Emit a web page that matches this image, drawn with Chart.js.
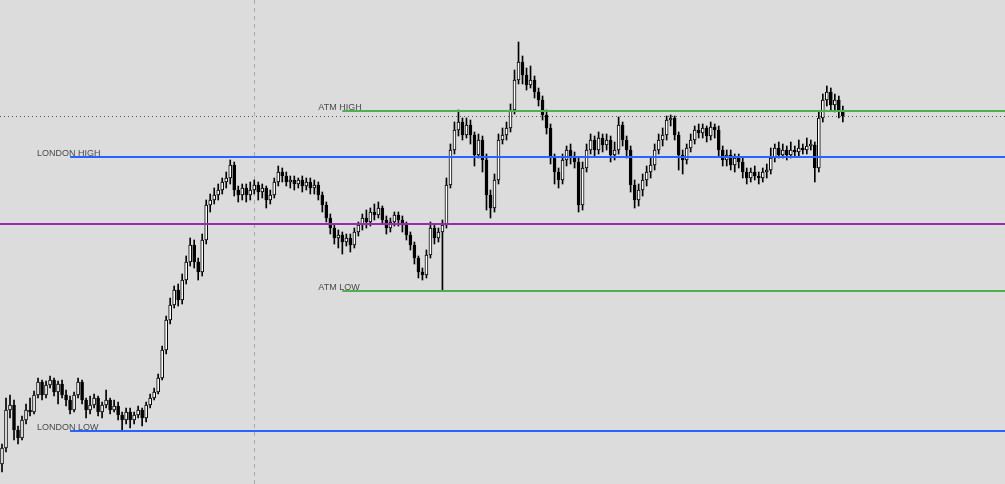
<!DOCTYPE html>
<html>
<head>
<meta charset="utf-8">
<script src="https://cdn.jsdelivr.net/npm/chart.js"></script>
<style>
  html, body { margin: 0; padding: 0; background: #dcdcdc; }
  #wrap { width: 1005px; height: 484px; position: relative; }
</style>
</head>
<body>
<div id="wrap"><canvas id="chart"></canvas></div>
<script>
// candles, price in points (higher = up)
const open = [
  20,36,74,79,54,46,64,74,72,89, 102,89,99,104,92,100,89,84,74,89,
  102,84,74,79,86,72,79,84,74,78, 69,64,72,64,69,74,66,79,86,92,
  106,134,164,179,194,184,204,222,239,222, 212,244,279,284,289,294,302,306,319,294,
  289,296,289,294,299,292,296,284,289,302, 312,308,302,304,300,304,298,302,296,299,
  289,279,266,256,246,249,242,246,239,252, 259,266,262,272,269,276,264,256,262,269,
  264,259,249,239,226,212,209,229,256,246, 252,259,299,334,354,362,349,359,349,329,
  344,324,289,276,304,344,349,356,374,404, 422,409,399,404,392,384,369,356,326,312,
  304,324,334,326,322,279,316,334,344,334, 346,339,344,329,334,359,344,334,299,284,
  294,304,312,319,334,344,349,364,366,349, 329,324,336,344,354,351,356,348,357,354,
  334,324,329,319,326,322,312,306,312,308, 306,312,314,326,336,329,334,329,334,332,
  336,334,338,339,316,366,384,392,379,384, 374
];
const close = [
  36,74,79,54,46,64,74,72,89,102, 89,99,104,92,100,89,84,74,89,102,
  84,74,79,86,72,79,84,74,78,69, 64,72,64,69,74,66,79,86,92,106,
  134,164,179,194,184,204,222,239,222,212, 244,279,284,289,294,302,306,319,294,289,
  296,289,294,299,292,296,284,289,302,312, 308,302,304,300,304,298,302,296,299,289,
  279,266,256,246,249,242,246,239,252,259, 266,262,272,269,276,264,256,262,269,264,
  259,249,239,226,212,209,229,256,246,252, 259,299,334,354,362,349,359,349,329,344,
  324,289,276,304,344,349,356,374,404,422, 409,399,404,392,384,369,356,326,312,304,
  324,334,326,322,279,316,334,344,334,346, 339,344,329,334,359,344,334,299,284,294,
  304,312,319,334,344,349,364,366,349,329, 324,336,344,354,351,356,348,357,354,334,
  324,329,319,326,322,312,306,312,308,306, 312,314,326,336,329,334,329,334,332,336,
  334,338,339,316,366,384,392,379,384,374, 368
];
const high = [
  40,86,89,84,58,68,80,86,93,106, 104,103,108,106,103,104,94,88,92,106,
  104,86,88,90,88,82,94,86,84,82, 72,76,76,72,78,76,82,90,96,110,
  138,168,186,198,200,210,228,246,244,226, 250,284,290,296,300,306,312,324,322,298,
  300,300,302,304,302,300,298,294,306,318, 316,312,308,308,306,308,306,306,304,302,
  292,282,270,260,254,252,250,250,256,262, 270,274,276,280,282,278,268,266,272,272,
  268,262,252,242,228,216,234,262,260,256, 264,306,340,362,374,366,366,364,352,350,
  348,330,294,310,350,356,362,380,414,442, 428,416,418,408,396,388,374,360,330,316,
  330,338,340,332,326,322,340,350,348,352, 350,350,348,342,367,362,348,338,304,300,
  310,318,326,340,350,356,368,369,368,352, 334,340,350,358,360,360,358,362,360,358,
  338,334,334,330,330,326,316,316,318,312, 316,320,336,340,342,340,338,342,338,344,
  340,346,344,342,372,390,398,396,390,388, 378
];
const low = [
  12,32,66,44,40,44,60,68,70,86, 84,86,96,88,80,86,78,70,72,86,
  80,66,70,76,68,66,76,70,72,64, 53,60,56,60,66,58,62,76,84,90,
  104,130,160,176,178,180,200,218,216,204, 208,240,272,280,284,290,296,300,288,282,
  284,282,284,290,284,286,276,280,286,298, 302,298,296,294,296,292,294,290,290,284,
  272,262,250,240,236,230,238,232,236,248, 254,256,258,264,266,260,250,252,258,258,
  252,244,234,220,206,204,206,226,240,242, 193,256,296,330,348,344,346,340,318,326,
  312,274,266,272,300,340,344,352,370,400, 400,394,396,386,378,364,350,320,300,296,
  300,318,320,316,272,274,312,330,328,330, 332,334,322,324,330,338,326,292,276,278,
  288,298,306,314,330,338,344,358,344,314, 310,320,332,340,346,346,342,344,346,328,
  318,318,314,312,316,306,300,302,304,300, 302,306,310,322,326,326,324,326,328,328,
  330,330,334,302,312,362,378,374,372,366, 362
];
// empty slots to the right of the last candle
const slots = 251;
const labels = Array.from({ length: slots }, (_, i) => (i < close.length ? 'c' + i : ''));

// horizontal levels
const levelNames  = ['ATM HIGH', 'LONDON HIGH', '', 'ATM LOW', 'LONDON LOW'];
const levelPrices = [373, 327, 260, 193, 53];
const levelStart  = [85, 17, 0, 85, 17]; // candle index where each line starts
const levelColors = ['#4caf50', '#2962ff', '#9c27b0', '#4caf50', '#2962ff'];
const lastPrice = 368;
const sessionBreak = 63; // candle index of the dashed vertical line

const wicks = low.map((l, i) => [l, high[i]]);
const bodies = open.map((o, i) => [o, close[i]]);
const bodyFill = open.map((o, i) => (close[i] >= o ? '#ffffff' : '#000000'));

const levelsPlugin = {
  id: 'levels',
  beforeDatasetsDraw(chart) {
    const { ctx, chartArea, scales } = chart;
    const x = scales.x;
    ctx.save();
    // session break
    const vx = Math.round(x.getPixelForValue(sessionBreak)) + 0.5;
    ctx.strokeStyle = '#a8a8a8';
    ctx.lineWidth = 1;
    ctx.setLineDash([4, 4]);
    ctx.beginPath();
    ctx.moveTo(vx, chartArea.top);
    ctx.lineTo(vx, chartArea.bottom);
    ctx.stroke();
    ctx.restore();
  },
  afterDatasetsDraw(chart) {
    const { ctx, chartArea, scales } = chart;
    const x = scales.x, y = scales.y;
    ctx.save();
    // last price dotted line
    const py = Math.round(y.getPixelForValue(lastPrice)) + 0.5;
    ctx.strokeStyle = '#555555';
    ctx.lineWidth = 1;
    ctx.setLineDash([1, 3]);
    ctx.beginPath();
    ctx.moveTo(chartArea.left, py);
    ctx.lineTo(chartArea.right, py);
    ctx.stroke();
    ctx.setLineDash([]);

    ctx.font = '9px "Liberation Sans", Arial, sans-serif';
    ctx.fillStyle = '#4a4a4a';
    ctx.textBaseline = 'alphabetic';
    levelPrices.forEach((p, i) => {
      const ly = Math.round(y.getPixelForValue(p));
      const sx = levelStart[i] === 0 ? chartArea.left : x.getPixelForValue(levelStart[i]);
      ctx.strokeStyle = levelColors[i];
      ctx.lineWidth = 2;
      ctx.beginPath();
      ctx.moveTo(sx, ly);
      ctx.lineTo(chartArea.right, ly);
      ctx.stroke();
      if (levelNames[i]) {
        const off = levelNames[i].startsWith('ATM') ? 24 : 33;
        ctx.fillText(levelNames[i], sx - off, ly - 1);
      }
    });
    ctx.restore();
  }
};

new Chart(document.getElementById('chart'), {
  type: 'bar',
  data: {
    labels: labels,
    datasets: [
      {
        label: 'wick',
        data: wicks,
        backgroundColor: '#000000',
        barThickness: 1,
        grouped: false,
        order: 2
      },
      {
        label: 'body',
        data: bodies,
        backgroundColor: bodyFill,
        borderColor: '#000000',
        borderWidth: 1,
        borderSkipped: false,
        barThickness: 3,
        minBarLength: 2,
        grouped: false,
        order: 1
      }
    ]
  },
  options: {
    responsive: true,
    maintainAspectRatio: false,
    animation: false,
    layout: { padding: 0 },
    plugins: {
      legend: { display: false },
      tooltip: { enabled: false }
    },
    scales: {
      x: { display: false, offset: true, grid: { display: false } },
      y: { display: false, min: 0, max: 484, grid: { display: false } }
    }
  },
  plugins: [levelsPlugin]
});
</script>
</body>
</html>
